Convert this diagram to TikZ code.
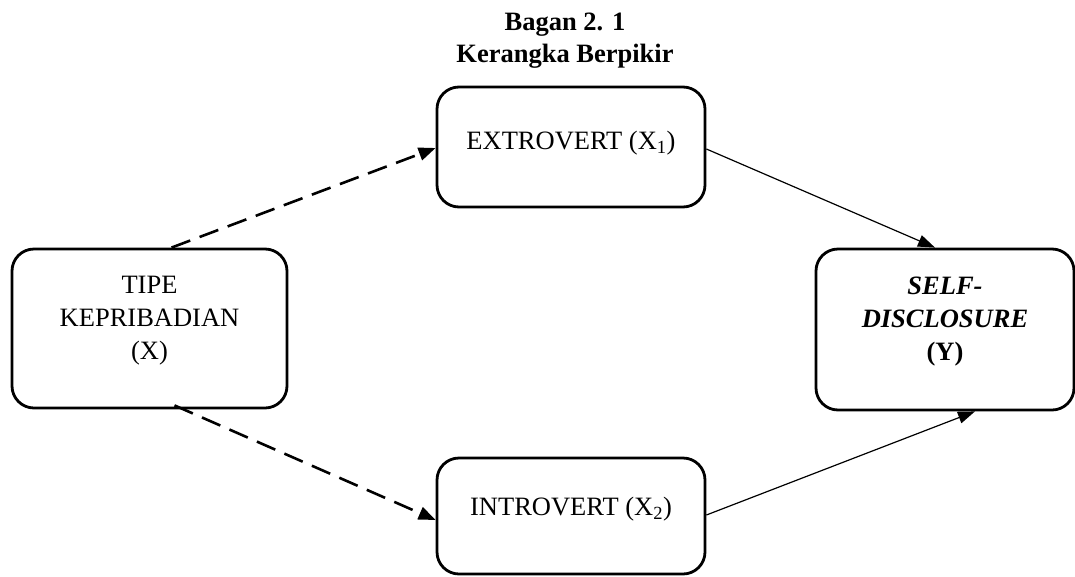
\documentclass[tikz,border=0pt]{standalone}
\usepackage{fontspec}
\setmainfont{Liberation Serif}
\usetikzlibrary{arrows.meta,calc}
\begin{document}
\begin{tikzpicture}[x=1pt,y=-1pt,
  box/.style={draw, line width=2.8pt, rounded corners=22pt, inner sep=0pt},
  txt/.style={align=center, font=\fontsize{26.5}{33}\selectfont, inner sep=0pt},
  ttl/.style={font=\bfseries\fontsize{26.5}{30}\selectfont, inner sep=0pt},
  dashline/.style={line width=2.6pt, dash pattern=on 20pt off 10pt, -{Triangle[length=17pt,width=13pt]}},
  solidline/.style={line width=1.2pt, -{Triangle[length=17pt,width=12pt]}}]
\useasboundingbox (0,0) rectangle (1075,576);
% title
\node[ttl] (t1) at (565,25) {Bagan 2. 1};
\node[ttl] (t2) at (565,56) {Kerangka Berpikir};
% boxes
\node[box, minimum width=275pt, minimum height=159pt] (tipe) at (149.5,328.5) {};
\node[box, minimum width=268pt, minimum height=120pt] (ext) at (571,147) {};
\node[box, minimum width=268pt, minimum height=116pt] (intro) at (571,516) {};
\node[box, minimum width=258pt, minimum height=161pt] (sd) at (945,329.5) {};
% texts
\node[txt] (tipetxt) at ([yshift=8pt]tipe.center) {TIPE\\KEPRIBADIAN\\(X)};
\node[txt] (exttxt) at ([yshift=4pt]ext.center) {EXTROVERT (X\textsubscript{1})};
\node[txt] (introtxt) at ([yshift=7pt]intro.center) {INTROVERT (X\textsubscript{2})};
\node[txt] (sdtxt) at ([yshift=7.5pt]sd.center) {\textbf{\textit{SELF-}}\\\textbf{\textit{DISCLOSURE}}\\\textbf{(Y)}};
% connectors
\draw[dashline] ([xshift=22pt]tipe.north) -- ([yshift=-1pt]ext.west);
\draw[dashline] ([xshift=25pt,yshift=4pt]tipe.south) -- ([yshift=-4pt]intro.west);
\draw[solidline] ([yshift=-2pt]ext.east) -- ([xshift=-10pt]sd.north);
\draw[solidline] ([yshift=1pt]intro.east) -- ([xshift=30pt]sd.south);
\end{tikzpicture}
\end{document}
